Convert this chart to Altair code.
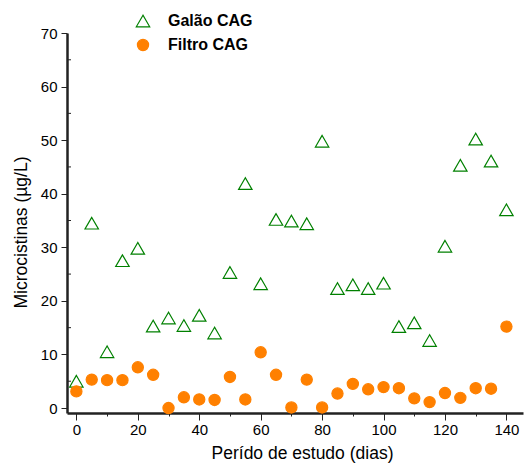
import altair as alt
import pandas as pd

dias = list(range(0, 145, 5))
galao = [5.0, 34.5, 10.5, 27.5, 29.8, 15.3, 16.8, 15.4, 17.3, 14.0,
         25.3, 41.9, 23.2, 35.2, 34.9, 34.4, 49.8, 22.3, 23.0, 22.3,
         23.3, 15.2, 15.9, 12.6, 30.2, 45.3, 50.2, 46.1, 37.0]
filtro = [3.1, 5.3, 5.2, 5.2, 7.6, 6.2, 0.0, 2.0, 1.6, 1.5,
          5.8, 1.6, 10.4, 6.2, 0.1, 5.3, 0.1, 2.7, 4.5, 3.5,
          3.9, 3.7, 1.8, 1.1, 2.8, 1.9, 3.7, 3.6, 15.2]
series = ["Galão CAG", "Filtro CAG"]
x_ticks = list(range(0, 141, 10))
y_ticks = list(range(0, 71, 10))
y_minor = list(range(5, 70, 10))
x_dom = [-3.05, 145.4]
y_dom = [-0.93, 70]

df = pd.DataFrame({
    "dia": dias * 2,
    "valor": galao + filtro,
    "serie": [series[0]] * len(dias) + [series[1]] * len(dias),
})
minor_df = pd.DataFrame({"v": y_minor})

FONT = "Liberation Sans"
AXIS_COLOR = "#222222"
x_scale = alt.Scale(domain=x_dom, nice=False, zero=False)
y_scale = alt.Scale(domain=y_dom, nice=False, zero=False)

points = alt.Chart(df).mark_point(strokeWidth=1.2, opacity=1, fillOpacity=1).encode(
    x=alt.X("dia:Q", scale=x_scale,
            axis=alt.Axis(values=x_ticks,
                          labelExpr="datum.value % 20 == 0 ? datum.label : ''",
                          tickSize={"condition": {"test": "datum.value % 20 == 0", "value": 7}, "value": 3},
                          labelOverlap=False, labelPadding=2,
                          domain=True, domainColor=AXIS_COLOR, domainWidth=2.5,
                          title="Perído de estudo (dias)", titlePadding=7, titleX=235)),
    y=alt.Y("valor:Q", scale=y_scale,
            axis=alt.Axis(values=y_ticks, tickSize=6, labelPadding=4,
                          domain=True, domainColor=AXIS_COLOR, domainWidth=2.5,
                          title="Microcistinas (µg/L)", titlePadding=10, titleY=199)),
    shape=alt.Shape("serie:N", scale=alt.Scale(domain=series, range=["triangle-up", "circle"]),
                    legend=alt.Legend(title=None, orient="none", legendX=68, legendY=-20,
                                      labelFont=FONT, labelFontSize=16, labelFontWeight="bold",
                                      labelColor="black", rowPadding=7, labelOffset=17,
                                      symbolStrokeWidth=1.2)),
    stroke=alt.Stroke("serie:N", scale=alt.Scale(domain=series, range=["#008000", "#FF8000"])),
    fill=alt.Fill("serie:N", scale=alt.Scale(domain=series, range=["transparent", "#FF8000"])),
    size=alt.Size("serie:N", scale=alt.Scale(domain=series, range=[180, 125])),
)

minor = alt.Chart(minor_df).mark_rule(color=AXIS_COLOR, strokeWidth=1).encode(
    y=alt.Y("v:Q", scale=y_scale),
    x=alt.value(0),
    x2=alt.value(4),
)

chart = alt.layer(points, minor).properties(
    width=456, height=380,
    autosize=alt.AutoSizeParams(type="none"),
    padding={"left": 67, "top": 33, "right": 2, "bottom": 55},
).configure_view(stroke=None).configure_axis(
    grid=False, tickColor=AXIS_COLOR, tickWidth=1,
    labelFont=FONT, labelFontSize=15, labelColor="black",
    titleFont=FONT, titleFontSize=17.5, titleFontWeight="normal", titleColor="black",
)

chart.save("out.html", embed_options={"renderer": "svg", "actions": False})
